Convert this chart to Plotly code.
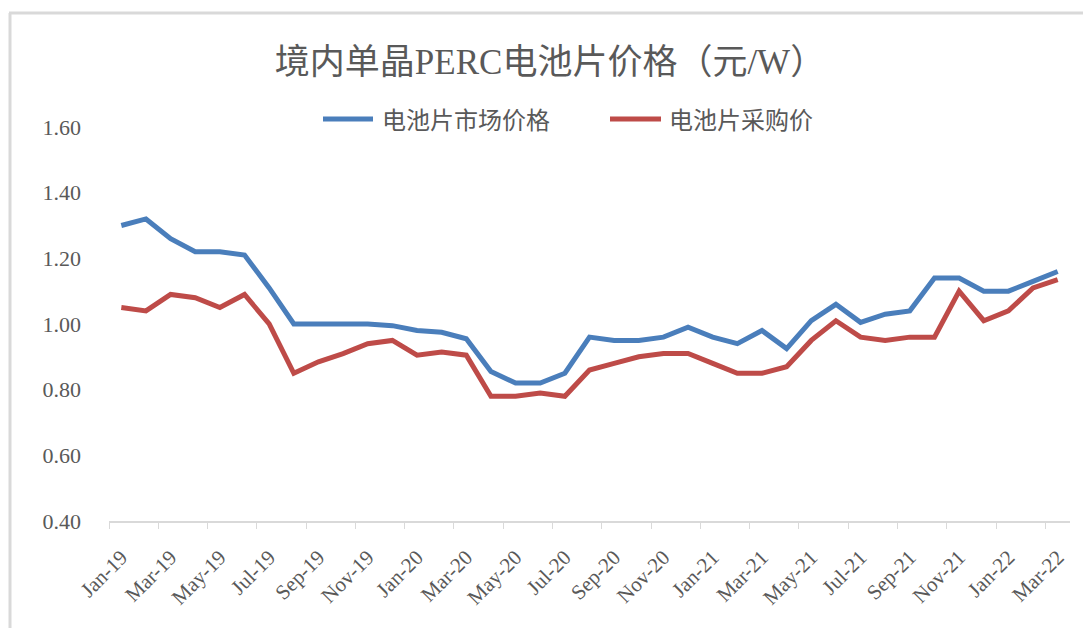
import plotly.graph_objects as go

months = ["Jan-19", "Feb-19", "Mar-19", "Apr-19", "May-19", "Jun-19", "Jul-19", "Aug-19", "Sep-19", "Oct-19",
          "Nov-19", "Dec-19", "Jan-20", "Feb-20", "Mar-20", "Apr-20", "May-20", "Jun-20", "Jul-20", "Aug-20",
          "Sep-20", "Oct-20", "Nov-20", "Dec-20", "Jan-21", "Feb-21", "Mar-21", "Apr-21", "May-21", "Jun-21",
          "Jul-21", "Aug-21", "Sep-21", "Oct-21", "Nov-21", "Dec-21", "Jan-22", "Feb-22", "Mar-22"]

market_price = [1.30, 1.32, 1.26, 1.22, 1.22, 1.21, 1.11, 1.00, 1.00, 1.00,
                1.00, 0.995, 0.98, 0.975, 0.955, 0.855, 0.82, 0.82, 0.85, 0.96,
                0.95, 0.95, 0.96, 0.99, 0.96, 0.94, 0.98, 0.925, 1.01, 1.06,
                1.005, 1.03, 1.04, 1.14, 1.14, 1.10, 1.10, 1.13, 1.16]

purchase_price = [1.05, 1.04, 1.09, 1.08, 1.05, 1.09, 1.00, 0.85, 0.885, 0.91,
                  0.94, 0.95, 0.905, 0.915, 0.905, 0.78, 0.78, 0.79, 0.78, 0.86,
                  0.88, 0.90, 0.91, 0.91, 0.88, 0.85, 0.85, 0.87, 0.95, 1.01,
                  0.96, 0.95, 0.96, 0.96, 1.10, 1.01, 1.04, 1.11, 1.135]

series_names = ["电池片市场价格", "电池片采购价"]
colors = ["#4a7ebb", "#be4b48"]
title_text = "境内单晶PERC电池片价格（元/W）"

# page is 1091x628; the body has an 8px default margin
OFF = 8
PAGE_W, PAGE_H = 1091, 628
W, H = PAGE_W - OFF, PAGE_H - OFF
PLOT_L, PLOT_R, PLOT_T, PLOT_B = 109, 1070, 127, 521  # page pixel coords of plot area
ML, MR, MT, MB = PLOT_L - OFF, PAGE_W - PLOT_R, PLOT_T - OFF, PAGE_H - PLOT_B
PW, PH = PLOT_R - PLOT_L, PLOT_B - PLOT_T

def px(x):
    return (x - PLOT_L) / PW

def py(y):
    return (PLOT_B - y) / PH

text_color = "#595959"
serif = "Liberation Serif, Times New Roman, Noto Sans CJK SC, serif"

fig = go.Figure()
for name, vals, col in zip(series_names, [market_price, purchase_price], colors):
    fig.add_trace(go.Scatter(x=months, y=vals, mode="lines", name=name,
                             line=dict(color=col, width=5), showlegend=False))

shapes = []
annotations = []
# manual legend
leg_y = py(119)
leg_items = [(323, 373, 380), (610, 661, 667)]
for (x0, x1, tx), name, col in zip(leg_items, series_names, colors):
    shapes.append(dict(type="line", xref="paper", yref="paper", x0=px(x0), x1=px(x1),
                       y0=leg_y, y1=leg_y, line=dict(color=col, width=5)))
    annotations.append(dict(xref="paper", yref="paper", x=px(tx), y=leg_y, text=name,
                            showarrow=False, xanchor="left", yanchor="middle",
                            font=dict(family="Noto Sans CJK SC", size=24, color=text_color)))

# chart border (top and left)
shapes.append(dict(type="line", xref="paper", yref="paper", x0=px(9), x1=px(PAGE_W + 5),
                   y0=py(13), y1=py(13), line=dict(color="#d9d9d9", width=3)))
shapes.append(dict(type="line", xref="paper", yref="paper", x0=px(10), x1=px(10),
                   y0=py(13), y1=py(PAGE_H + 5), line=dict(color="#d9d9d9", width=3)))

fig.update_layout(
    width=W, height=H,
    margin=dict(l=ML, r=MR, t=MT, b=MB),
    paper_bgcolor="white", plot_bgcolor="white",
    title=dict(text=title_text, x=(550 - OFF) / W, xanchor="center",
               y=1 - (62 - OFF) / H, yanchor="middle",
               font=dict(family=serif, size=35, color=text_color)),
    shapes=shapes, annotations=annotations,
    xaxis=dict(type="category", range=[-0.5, len(months) - 0.5],
               tickmode="linear", tick0=0, dtick=2, tickson="boundaries",
               tickangle=-45, showgrid=False, zeroline=False,
               showline=True, linecolor="#d9d9d9", linewidth=1.5,
               ticks="outside", ticklen=6, tickcolor="#d9d9d9", tickwidth=1,
               ticklabelstandoff=14,
               tickfont=dict(family=serif, size=21, color=text_color)),
    yaxis=dict(range=[0.4, 1.6], dtick=0.2, tick0=0.4, tickformat=".2f",
               showgrid=False, zeroline=False, showline=False,
               ticklabelstandoff=27,
               tickfont=dict(family=serif, size=22, color=text_color)),
)

fig.write_html("out.html")
